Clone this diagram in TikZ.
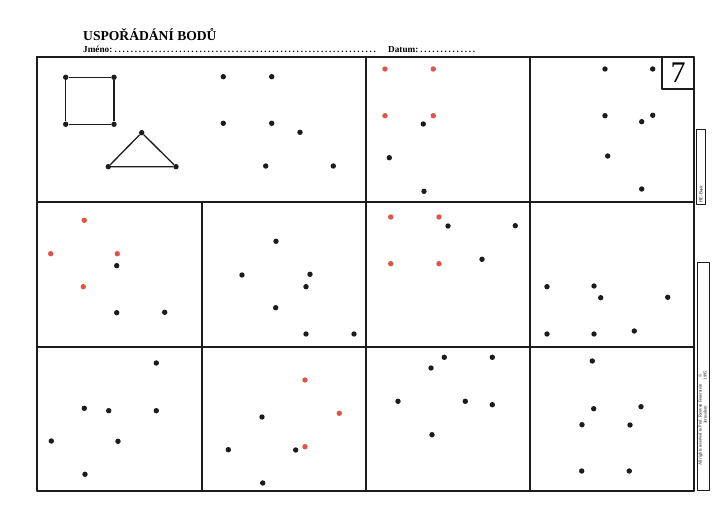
\documentclass[tikz,border=0pt]{standalone}
\usepackage{fontspec}
\setmainfont{Liberation Serif}
\definecolor{ink}{RGB}{28,28,28}
\definecolor{dotred}{RGB}{226,84,72}
\begin{document}
\begin{tikzpicture}[x=1pt,y=-1pt,line join=round]
  \tikzset{dot/.style={circle, fill=ink, inner sep=0pt, minimum size=5.4pt},
    rdot/.style={dot, fill=dotred},
    cell/.style={draw=ink, line width=1.2pt},
    side/.style={draw=ink, line width=0.5pt, inner sep=1pt, rotate=90, font=\fontsize{4.4}{5}\selectfont}}
  \useasboundingbox[fill=white] (0,0) rectangle (717,526);
  % heading
  \node[anchor=base west, inner sep=0pt, font=\bfseries\fontsize{13.6}{15}\selectfont] (title) at (83,40.5) {USPOŘÁDÁNÍ BODŮ};
  \node[anchor=base west, inner sep=0pt, font=\bfseries\fontsize{9.2}{10}\selectfont] (name) at (83,53) {\makebox[295pt][l]{Jméno:\dotfill}};
  \node[anchor=base west, inner sep=0pt, font=\bfseries\fontsize{9.2}{10}\selectfont] (date) at (388,53) {\makebox[89pt][l]{Datum:\dotfill}};
  % grid of cells
  \draw[cell] (37,57) rectangle (694,491);
  \draw[cell] (366,57) -- (366,491);
  \draw[cell] (530,57) -- (530,491);
  \draw[cell] (202,202) -- (202,491);
  \draw[cell] (37,202) -- (694,202);
  \draw[cell] (37,347) -- (694,347);
  \draw[draw=ink, line width=2.6pt] (37,57) rectangle (366,202);
  \node[draw=ink, line width=1.2pt, minimum size=32pt, inner sep=0pt, font=\fontsize{30}{30}\selectfont] (num) at (678,73) {7};
  % example: square and triangle
  \node[dot] (s1) at (65.7,77.3) {};
  \node[dot] (s2) at (114,77.3) {};
  \node[dot] (s3) at (114,124.3) {};
  \node[dot] (s4) at (65.7,124.3) {};
  \node[dot] (t1) at (141.7,132.7) {};
  \node[dot] (t2) at (108.3,166.7) {};
  \node[dot] (t3) at (176,166.7) {};
  \draw[ink, line width=1.3pt] (s1) -- (s2) -- (s3) -- (s4) -- (s1);
  \draw[ink, line width=1.3pt] (t1) -- (t2) -- (t3) -- (t1);
  % dots, black
  \foreach \p in {(223.3,76.7),(271.7,76.7),(223.3,123.3),(271.7,123.3),(300,132.3),(265.7,166),(333.3,166),
      (423.3,124),(389.3,157.7),(424,191.3),
      (605,69),(652.7,69),(605,115.7),(652.7,115.3),(641.7,121.7),(607.7,156),(641.7,189),
      (116.7,265.7),(116.7,312.7),(164.7,312.3),
      (276,241.3),(242,275),(310,274.3),(306,286.7),(275.7,307.7),(306,334),(354,334),
      (448,226),(515.3,225.7),(482,259.3),
      (547,286.7),(594,286),(600.7,297.7),(667.7,297.3),(547,334),(594,334),(634.3,331),
      (156.3,363),(84.3,408.3),(108.7,410.7),(156.3,410.7),(51.3,441),(118,441.3),(85,474.3),
      (262,417),(228.3,449.7),(295.7,450),(262.7,483),
      (444.3,357.3),(492.3,357.3),(431,368),(398,401.3),(465.3,401.3),(492.3,404.7),(432,434.7),
      (592.3,361),(593.7,408.7),(641,406.7),(582,424.7),(630,425),(581.7,471),(629.3,471)}
    \node[dot] at \p {};
  % dots, red
  \foreach \p in {(385,69),(433.3,69),(385,115.7),(433.3,115.7),
      (84.3,220.3),(50.7,253.7),(117.3,253.7),(83.3,286.7),
      (390.7,217),(439,217),(390.7,263.7),(439,263.7),
      (305,380),(339.3,413.3),(305,446.7)}
    \node[rdot] at \p {};
  % side strip
  \node[side, minimum width=75pt, minimum height=9pt, text width=72pt, align=left] (fie) at (701,167) {FIE-Basic};
  \node[side, minimum width=228pt, minimum height=12pt] (rights) at (703,376)
    {\begin{tabular}{@{}l@{\quad}c@{}}All rights reserved to Prof. Reuven Feuerstein & ©\\ \hspace*{42pt}Jerusalem & 1995\end{tabular}\hspace*{85pt}};
\end{tikzpicture}
\end{document}
